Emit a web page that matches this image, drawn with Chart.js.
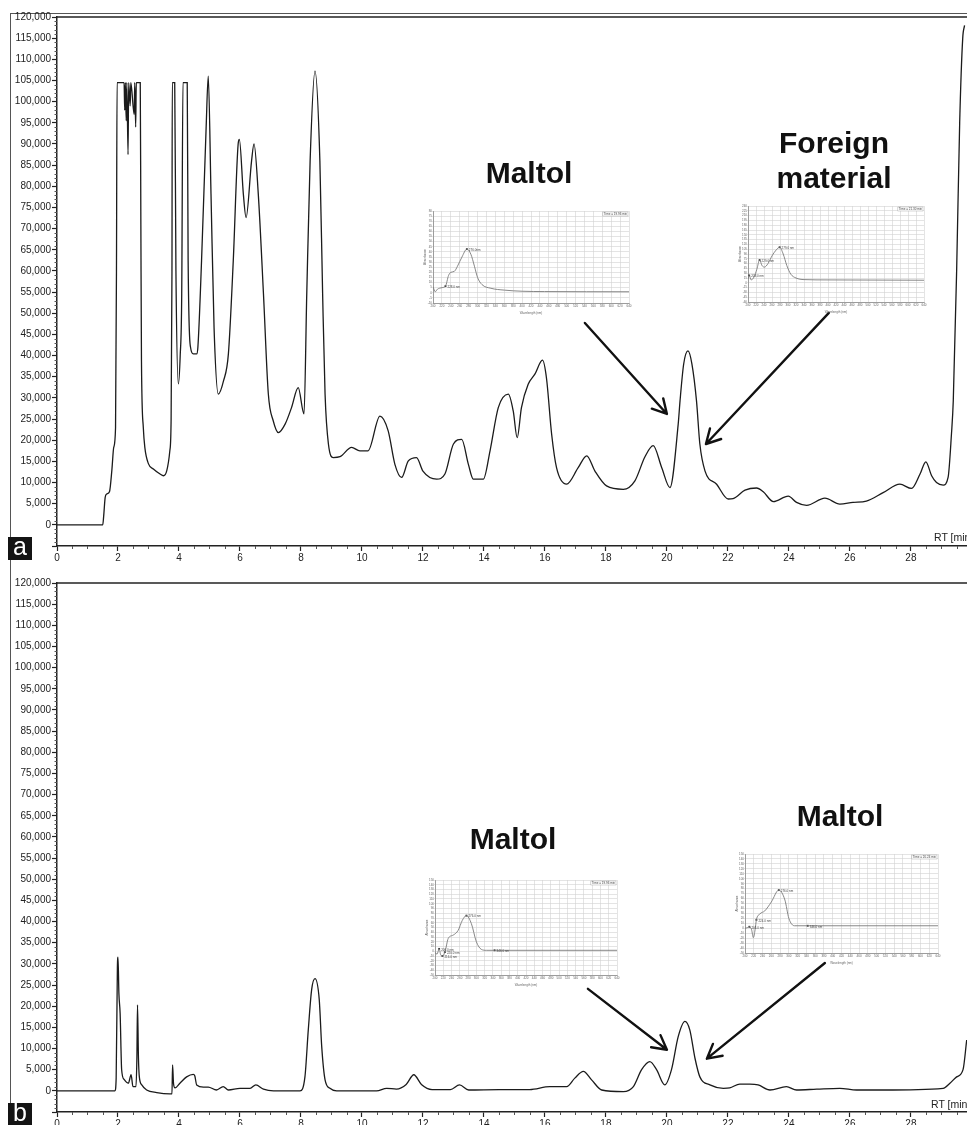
<!DOCTYPE html>
<html lang="en">
<head>
<meta charset="utf-8" />
<title>Chromatograms a / b</title>
<script src="https://cdnjs.cloudflare.com/ajax/libs/Chart.js/4.4.0/chart.umd.js"></script>
<style>
  body { margin: 0; background: #fff; font-family: "Liberation Sans", Arial, sans-serif; }
  #wrap { position: relative; width: 967px; height: 1125px; overflow: hidden; }
  canvas { position: absolute; }
  .big { position: absolute; width: 240px; font-weight: bold; font-size: 30px; line-height: 30px; color: #111; text-align: center; white-space: nowrap; }
  .rt { position: absolute; font-size: 10.5px; line-height: 12px; color: #222; white-space: nowrap; }
  .tag { position: absolute; left: 8px; width: 24px; height: 23px; background: #141414; color: #fff; font-size: 25px; line-height: 19px; text-align: center; }
  #outer { position: absolute; left: 10px; top: 13px; width: 960px; height: 1120px; border-left: 1.5px solid #555; border-top: 1.5px solid #555; }
</style>
</head>
<body>
<div id="wrap">
  <div id="outer"></div>
  <canvas id="chartA" width="967" height="566" style="left:0;top:0"></canvas>
  <canvas id="chartB" width="967" height="559" style="left:0;top:566px"></canvas>
  <canvas id="insA1"></canvas>
  <canvas id="insA2"></canvas>
  <canvas id="insB1"></canvas>
  <canvas id="insB2"></canvas>

  <div class="big" style="left:409px;top:157.6px">Maltol</div>
  <div class="big" style="left:714px;top:125px;line-height:35px">Foreign<br>material</div>
  <div class="big" style="left:393px;top:823.6px">Maltol</div>
  <div class="big" style="left:720px;top:800.6px">Maltol</div>

  <div class="rt" style="left:934px;top:531px">RT [min]</div>
  <div class="rt" style="left:931px;top:1098px">RT [min]</div>

  <div class="tag" style="top:537px">a</div>
  <div class="tag" style="top:1103px">b</div>
</div>
<script>
// trace a: retention time (min) / intensity
const rtA = [0, 1.5, 1.53, 1.58, 1.63, 1.72, 1.8, 1.86, 1.92, 1.95, 1.97,
  2.2, 2.22, 2.24, 2.27, 2.29, 2.33, 2.35, 2.4, 2.42, 2.53, 2.55, 2.58, 2.6, 2.73,
  2.75, 2.77, 2.83, 2.88, 3.0, 3.16, 3.38, 3.49, 3.6, 3.7, 3.74, 3.77, 3.78, 3.86,
  3.9, 3.98, 4.04, 4.09, 4.13, 4.27, 4.3, 4.38, 4.47, 4.58, 4.62, 4.74, 4.89, 4.96,
  5.05, 5.15, 5.29, 5.46, 5.62, 5.78, 5.94, 5.98, 6.11, 6.2, 6.38, 6.46, 6.6, 6.77,
  6.93, 7.09, 7.26, 7.48, 7.69, 7.91, 8.1, 8.19, 8.3, 8.46, 8.62, 8.71, 8.79, 8.9,
  9.06, 9.28, 9.66, 9.93, 10.2, 10.59, 10.86, 11.08, 11.3, 11.52, 11.79, 12.0, 12.45,
  12.72, 13.0, 13.27, 13.49, 13.65, 13.98, 14.2, 14.47, 14.8, 14.96, 15.09, 15.23,
  15.45, 15.67, 15.92, 16.05, 16.22, 16.38, 16.71, 17.09, 17.37, 17.64, 18.02, 18.57,
  18.95, 19.28, 19.55, 19.83, 20.1, 20.37, 20.43, 20.55, 20.69, 20.82, 20.97, 21.08,
  21.25, 21.63, 22.01, 22.17, 22.56, 22.94, 23.16, 23.49, 23.98, 24.25, 24.58, 25.18,
  25.67, 26.1, 26.54, 27.09, 27.64, 28.02, 28.3, 28.49, 28.68, 28.84, 29.06, 29.22,
  29.33, 29.39, 29.5, 29.6, 29.7, 29.76];
const sigA = [0, 0, 2000, 6500, 7300, 7800, 13000, 18300, 23000, 60000, 104500,
  104500, 98000, 104500, 95500, 104500, 87500, 104500, 99000, 104500, 97000, 104500, 94000, 104500, 104500,
  71000, 38700, 23000, 18300, 14400, 13200, 12000, 11600, 12800, 17500, 24000, 60000, 104500, 104500,
  60000, 33300, 40000, 54600, 104500, 104500, 62400, 41900, 40400, 40400, 42000, 62400, 93800, 106000,
  78200, 46600, 30900, 34000, 40400, 62400, 90000, 91100, 78200, 72600, 86000, 90000, 78200, 54600,
  30900, 24600, 21800, 23800, 27700, 32400, 26200, 54600, 86000, 107200, 86000, 54600, 30900, 19100,
  15900, 16100, 18300, 17500, 17500, 25700, 22200, 14300, 11200, 15100, 15900, 12700, 10800,
  12000, 19100, 20200, 14300, 10800, 10800, 17500, 27700, 30900, 26900, 20600, 27700,
  33200, 35600, 38900, 34700, 21400, 13500, 9600, 13500, 16300, 12700, 9200, 8400,
  10400, 16100, 18700, 13500, 8800, 23800, 29300, 38000, 41100, 38000, 29300, 19100,
  12700, 9600, 6100, 6200, 8200, 8700, 7800, 5500, 6800, 5300, 4600, 6300,
  4900, 5300, 5600, 7600, 9600, 8600, 12000, 14900, 11600, 10000, 9400, 11200,
  21400, 29300, 60000, 95000, 115000, 118000];

// trace b
const rtB = [0, 1.9, 1.94, 1.98, 2.0, 2.03, 2.07, 2.12, 2.2, 2.34, 2.43, 2.49, 2.59,
  2.62, 2.64, 2.67, 2.7, 2.78, 2.94, 3.27, 3.7, 3.77, 3.79, 3.82, 3.87, 4.03, 4.25,
  4.47, 4.52, 4.58, 4.8, 4.96, 5.23, 5.45, 5.62, 6.0, 6.33, 6.52, 6.77, 7.1, 7.97,
  8.13, 8.24, 8.35, 8.46, 8.6, 8.68, 8.79, 8.95, 9.17, 10.48, 10.81, 11.13, 11.45,
  11.7, 11.95, 12.3, 12.9, 13.2, 13.5, 14.5, 15.5, 16.16, 16.71, 16.98, 17.26, 17.53,
  17.86, 18.57, 18.9, 19.17, 19.44, 19.66, 19.93, 20.15, 20.37, 20.59, 20.75, 20.92,
  21.08, 21.41, 21.85, 22.06, 22.39, 22.72, 22.99, 23.38, 23.92, 24.25, 24.91, 25.67,
  26.22, 27.09, 29.06, 29.28, 29.5, 29.71, 29.83];
const sigB = [0, 0, 3000, 29000, 31600, 23000, 18300, 5000, 2700, 1800, 3800, 1000, 1000,
  8000, 20300, 8000, 3300, 1400, 200, -400, -700, -700, 6100, 1800, 700, 1800, 3300,
  3900, 3500, 1400, 900, 900, 200, 1000, 200, 600, 600, 1400, 400, 0, 0,
  3300, 14400, 23900, 26500, 21500, 10500, 2600, 600, 0, 0, 600, 400, 1500,
  3800, 1500, 300, 300, 1400, 200, 300, 300, 1000, 1000, 3000, 4600, 2600,
  200, -200, 1000, 5000, 6900, 5000, 1400, 5000, 12800, 16400, 14400, 7700,
  3300, 1400, 600, 700, 1600, 1600, 1400, 200, 1000, 200, 400, 600,
  200, 200, 600, 1800, 3300, 5000, 12000];

// UV spectra in the insets: wavelength (nm) / absorbance
const wlA1 = [200, 205, 210, 220, 228, 235, 240, 248, 255, 265, 276, 285, 293, 300, 310, 330, 360, 400, 450, 640];
const abA1 = [6, 1, 3.5, 5, 6.5, 17, 20, 21, 26, 35, 42.7, 37.7, 26, 15, 8, 4.4, 2.6, 1.5, 1.2, 1];
const mkWlA1 = [228, 276], mkAbA1 = [6.5, 42.7], mkTxtA1 = ['228.0 nm', '276.0nm'];

const wlA2 = [200, 203, 208, 215, 222, 229, 235, 241, 250, 260, 270, 279, 288, 297, 307, 320, 340, 400, 640];
const abA2 = [12, 23, 9, 18, 42, 71, 54, 49, 60, 84, 102, 111, 90, 54, 27, 15, 10, 9, 8];
const mkWlA2 = [203, 229, 279], mkAbA2 = [23, 71, 111], mkTxtA2 = ['203.0 nm', '229.0 nm', '279.0 nm'];

const wlB1 = [200, 205, 210, 214, 218, 224, 232, 244, 256, 266, 276, 288, 300, 312, 324, 344, 640];
const abB1 = [-3, -6, 5, -8, -10, -2, 27, 34, 44, 65, 75, 58, 20, 4, 2, 2, 2];
const mkWlB1 = [210, 218, 224, 276, 344], mkAbB1 = [5, -10, -2, 75, 2];
const mkTxtB1 = ['206.0 nm', '216.0 nm', '220.0 nm', '276.0 nm', '346.0 nm'];

const wlB2 = [200, 205, 210, 215, 219, 223, 226, 234, 245, 260, 277, 291, 300, 313, 343, 640];
const abB2 = [0, 1, 3, -3, -19, -3, 17, 29, 35, 53, 77, 57, 20, 5, 5, 5];
const mkWlB2 = [210, 226, 277, 343], mkAbB2 = [3, 17, 77, 5];
const mkTxtB2 = ['206.0 nm', '224.0 nm', '276.0 nm', '346.0 nm'];

// arrows, in chart units: [rt start, intensity start, rt tip, intensity tip]
const arrowsA = [[17.31, 47700, 20.0, 26200], [25.31, 50100, 21.28, 19100]];
const arrowsB = [[17.41, 24100, 20.0, 9700], [25.18, 30200, 21.31, 7600]];

const FONT = 'Liberation Sans';

function framePlugin(arrows) {
  return {
    id: 'frame',
    afterDraw(chart) {
      const { ctx, chartArea: a, scales: { x, y } } = chart;
      ctx.save();
      ctx.strokeStyle = '#222';
      ctx.lineWidth = 1.5;
      ctx.beginPath();
      ctx.moveTo(a.left, a.top);
      ctx.lineTo(a.right, a.top);
      ctx.stroke();
      // minor ticks
      ctx.lineWidth = 1;
      ctx.strokeStyle = '#555';
      ctx.beginPath();
      for (let v = y.min; v <= y.max; v += 1000) {
        if (v % 5000 === 0) continue;
        const p = Math.round(y.getPixelForValue(v)) + 0.5;
        ctx.moveTo(a.left - 2.5, p);
        ctx.lineTo(a.left, p);
      }
      for (let v = 0.5; v <= x.max; v += 0.5) {
        if (v % 2 === 0) continue;
        const p = Math.round(x.getPixelForValue(v)) + 0.5;
        ctx.moveTo(p, a.bottom);
        ctx.lineTo(p, a.bottom + 3);
      }
      ctx.stroke();
      // arrows
      ctx.strokeStyle = '#111';
      ctx.lineWidth = 2.4;
      ctx.lineCap = 'round';
      ctx.lineJoin = 'round';
      arrows.forEach(ar => {
        const x0 = x.getPixelForValue(ar[0]), y0 = y.getPixelForValue(ar[1]);
        const x1 = x.getPixelForValue(ar[2]), y1 = y.getPixelForValue(ar[3]);
        const ang = Math.atan2(y1 - y0, x1 - x0), h = 16, s = 0.5;
        ctx.beginPath();
        ctx.moveTo(x0, y0);
        ctx.lineTo(x1, y1);
        ctx.moveTo(x1 - h * Math.cos(ang - s), y1 - h * Math.sin(ang - s));
        ctx.lineTo(x1, y1);
        ctx.lineTo(x1 - h * Math.cos(ang + s), y1 - h * Math.sin(ang + s));
        ctx.stroke();
      });
      ctx.restore();
    }
  };
}

function makeMain(id, xs, ys, arrows) {
  const cv = document.getElementById(id);
  const H = cv.height;
  const tickFont = { family: FONT, size: 10 };
  return new Chart(cv, {
    type: 'line',
    data: {
      datasets: [{
        data: xs.map((x, i) => ({ x: x, y: ys[i] })),
        borderColor: '#1b1b1b',
        borderWidth: 1.3,
        pointRadius: 0,
        tension: 0.4,
        cubicInterpolationMode: 'monotone',
        fill: false
      }]
    },
    options: {
      responsive: false,
      animation: false,
      events: [],
      layout: { padding: { top: 17, right: 0, left: 0, bottom: 0 } },
      plugins: { legend: { display: false }, tooltip: { enabled: false } },
      scales: {
        x: {
          type: 'linear', min: 0, max: 29.84,
          afterFit: s => { s.height = H - 546; },
          ticks: {
            stepSize: 2, includeBounds: false, autoSkip: false, maxRotation: 0,
            padding: 1, color: '#222', font: tickFont,
            callback: v => (v % 2 === 0 ? v : '')
          },
          grid: { drawOnChartArea: false, tickLength: 5, tickColor: '#222', tickWidth: 1.2 },
          border: { color: '#222', width: 1.5 }
        },
        y: {
          min: -5000, max: 120000,
          afterFit: s => { s.width = 57; },
          ticks: {
            stepSize: 5000, autoSkip: false, padding: 1, color: '#222', font: tickFont,
            callback: v => (v < 0 ? '' : v.toLocaleString('en-US'))
          },
          grid: { drawOnChartArea: false, tickLength: 5, tickColor: '#222', tickWidth: 1.2 },
          border: { color: '#222', width: 1.5 }
        }
      }
    },
    plugins: [framePlugin(arrows)]
  });
}

function insetPlugin(mkWl, mkAb, mkTxt, timeTxt) {
  return {
    id: 'insetText',
    afterDraw(chart) {
      const { ctx, chartArea: a, scales: { x, y } } = chart;
      ctx.save();
      ctx.font = '3px ' + FONT;
      ctx.fillStyle = '#444';
      ctx.textBaseline = 'middle';
      mkWl.forEach((w, i) => {
        ctx.fillText(mkTxt[i], x.getPixelForValue(w) + 2, y.getPixelForValue(mkAb[i]) + 1);
      });
      const tw = ctx.measureText(timeTxt).width + 2;
      ctx.fillStyle = '#fff';
      ctx.fillRect(a.right - tw - 1, a.top + 1, tw, 4);
      ctx.strokeStyle = '#999';
      ctx.lineWidth = 0.4;
      ctx.strokeRect(a.right - tw - 1, a.top + 1, tw, 4);
      ctx.fillStyle = '#444';
      ctx.fillText(timeTxt, a.right - tw, a.top + 3);
      ctx.restore();
    }
  };
}

function makeInset(id, box, wl, ab, mkWl, mkAb, mkTxt, yMin, yMax, yStep, timeTxt) {
  const cv = document.getElementById(id);
  const L = 10, T = 3, R = 3, B = 12;
  cv.style.left = (box[0] - L) + 'px';
  cv.style.top = (box[1] - T) + 'px';
  cv.width = box[2] - box[0] + L + R;
  cv.height = box[3] - box[1] + T + B;
  const f = { family: FONT, size: 3 };
  return new Chart(cv, {
    type: 'line',
    data: {
      datasets: [{
        data: wl.map((w, i) => ({ x: w, y: ab[i] })),
        borderColor: '#7a7a7a', borderWidth: 0.9, pointRadius: 0,
        tension: 0.4, cubicInterpolationMode: 'monotone'
      }, {
        data: mkWl.map((w, i) => ({ x: w, y: mkAb[i] })),
        showLine: false, pointStyle: 'rect', pointRadius: 1.3,
        pointBackgroundColor: '#333', pointBorderColor: '#333', pointBorderWidth: 0
      }]
    },
    options: {
      responsive: false,
      animation: false,
      events: [],
      layout: { padding: { top: T, right: R, left: 0, bottom: 0 } },
      plugins: { legend: { display: false }, tooltip: { enabled: false } },
      scales: {
        x: {
          type: 'linear', min: 200, max: 640,
          afterFit: s => { s.height = B; },
          ticks: { stepSize: 20, autoSkip: false, maxRotation: 0, padding: 0, color: '#666', font: f },
          title: { display: true, text: 'Wavelength (nm)', color: '#666', font: f, padding: 0 },
          grid: { color: '#d2d2d2', lineWidth: 0.6, tickLength: 1 },
          border: { color: '#8a8a8a', width: 0.8 }
        },
        y: {
          min: yMin, max: yMax,
          afterFit: s => { s.width = L; },
          ticks: { stepSize: yStep, autoSkip: false, padding: 0, color: '#666', font: f },
          title: { display: true, text: 'Absorbance', color: '#666', font: f, padding: 0 },
          grid: { color: '#d2d2d2', lineWidth: 0.6, tickLength: 1 },
          border: { color: '#8a8a8a', width: 0.8 }
        }
      }
    },
    plugins: [insetPlugin(mkWl, mkAb, mkTxt, timeTxt)]
  });
}

makeMain('chartA', rtA, sigA, arrowsA);
makeMain('chartB', rtB, sigB, arrowsB);

makeInset('insA1', [433, 210, 630, 303], wlA1, abA1, mkWlA1, mkAbA1, mkTxtA1, -10, 80, 5, 'Time = 19.96 min');
makeInset('insA2', [748, 205, 925, 302], wlA2, abA2, mkWlA2, mkAbA2, mkTxtA2, -60, 240, 15, 'Time = 21.30 min');
makeInset('insB1', [435, 879, 618, 975], wlB1, abB1, mkWlB1, mkAbB1, mkTxtB1, -50, 150, 10, 'Time = 19.96 min');
makeInset('insB2', [745, 853, 939, 953], wlB2, abB2, mkWlB2, mkAbB2, mkTxtB2, -50, 150, 10, 'Time = 20.24 min');
</script>
</body>
</html>
